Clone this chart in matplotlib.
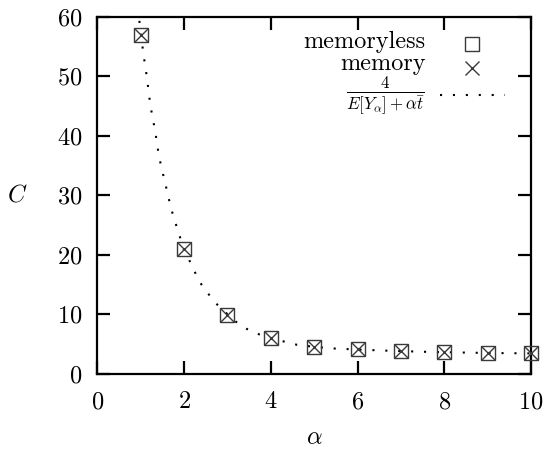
import matplotlib
matplotlib.use("Agg")
import matplotlib.pyplot as plt

# ---- data ----
alpha_pts = [1, 2, 3, 4, 5, 6, 7, 8, 9, 10]
memoryless = [56.9, 20.9, 9.9, 6.05, 4.5, 4.1, 3.85, 3.55, 3.5, 3.5]
memory = [56.9, 20.9, 9.9, 6.05, 4.5, 4.1, 3.85, 3.55, 3.5, 3.5]

curve_x = [0.97, 1.06, 1.14, 1.22, 1.27, 1.33, 1.42, 1.49, 1.56, 1.63, 1.70,
           1.79, 1.885, 1.98, 2.1, 2.23, 2.37, 2.55, 2.73, 3.0, 3.19, 3.45,
           3.73, 4.0, 4.3, 4.6, 5.0, 5.5, 6.0, 6.5, 7.0, 7.5, 8.0, 8.5, 9.0,
           9.5, 10.0]
curve_y = [59.3, 53.9, 50.0, 45.3, 43.2, 41.0, 36.6, 34.3, 32.2, 30.0, 27.8,
           25.6, 23.5, 21.1, 19.4, 17.35, 15.3, 13.5, 11.85, 10.0, 8.75, 7.5,
           6.6, 6.0, 5.4, 4.85, 4.5, 4.2, 4.05, 3.9, 3.78, 3.68, 3.6, 3.53,
           3.47, 3.43, 3.4]

xticks = [0, 2, 4, 6, 8, 10]
yticks = [0, 10, 20, 30, 40, 50, 60]

labels = ["memoryless", "memory", r"$\frac{4}{E[Y_\alpha]+\alpha\bar{t}}$"]

# ---- style ----
plt.rcParams["font.family"] = ["cmr10", "DejaVu Serif"]
plt.rcParams["mathtext.fontset"] = "cm"
plt.rcParams["axes.formatter.use_mathtext"] = True
FS = 17.5

fig = plt.figure(figsize=(5.48, 4.49), dpi=100)
ax = fig.add_axes([97.3 / 548, 1 - 373.6 / 449, (531 - 97.3) / 548, (373.6 - 16.7) / 449])

mcol = "#3a3a3a"
ax.plot(curve_x, curve_y, color="black", lw=1.5, linestyle=(0, (1, 5.2)),
        dash_capstyle="butt", clip_on=True, zorder=2)
ax.plot(alpha_pts, memoryless, linestyle="none", marker="s", ms=9.5,
        mfc="none", mec=mcol, mew=1.0, clip_on=False, zorder=3)
ax.plot(alpha_pts, memory, linestyle="none", marker="x", ms=9.5,
        mec=mcol, mew=1.0, clip_on=False, zorder=3)

ax.set_xlim(0, 10)
ax.set_ylim(0, 60)
ax.set_xticks(xticks)
ax.set_yticks(yticks)
ax.tick_params(direction="in", length=9.4, width=1.6, top=True, right=True,
               labelsize=FS)
ax.tick_params(axis="y", pad=11)
ax.tick_params(axis="x", pad=12.5)
for s in ax.spines.values():
    s.set_linewidth(1.6)

ax.set_xlabel(r"$\alpha$", fontsize=FS)
ax.xaxis.set_label_coords(0.5, -0.182)
ax.xaxis.label.set_va("center")
ax.set_ylabel(r"$C$", fontsize=FS, rotation=0)
ax.yaxis.set_label_coords(-0.185, 0.5)
ax.yaxis.label.set_va("center")
ax.yaxis.label.set_ha("center")

# ---- legend (gnuplot style) ----
tx = 0.7568
ax.text(tx, 0.9112, labels[0], transform=ax.transAxes, ha="right",
        va="baseline", fontsize=FS)
ax.text(tx, 0.8504, labels[1], transform=ax.transAxes, ha="right",
        va="baseline", fontsize=FS)
ax.text(tx, 0.776, labels[2], transform=ax.transAxes, ha="right",
        va="center", fontsize=FS)
ax.plot([0.8633], [0.9232], transform=ax.transAxes, linestyle="none",
        marker="s", ms=9.5, mfc="none", mec=mcol, mew=1.0, clip_on=False)
ax.plot([0.8633], [0.855], transform=ax.transAxes, linestyle="none",
        marker="x", ms=9.5, mec=mcol, mew=1.0, clip_on=False)
ax.plot([0.790, 0.940], [0.782, 0.782], transform=ax.transAxes, color="black",
        lw=1.5, linestyle=(0, (1, 5.2)), dash_capstyle="butt")

fig.savefig("out.png", dpi=100)
